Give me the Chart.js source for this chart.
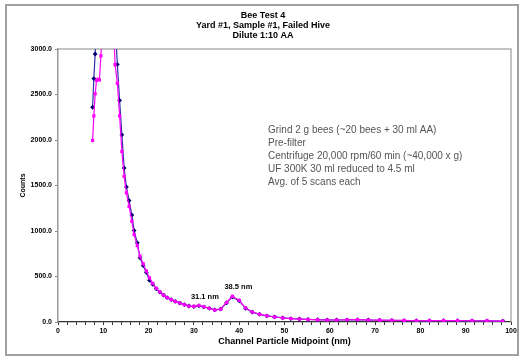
<!DOCTYPE html>
<html>
<head>
<meta charset="utf-8">
<script src="https://cdn.jsdelivr.net/npm/chart.js@4.4.1/dist/chart.umd.min.js"></script>
<style>
  body { margin: 0; background: #fff; }
  #wrap { width: 520px; height: 358px; position: relative; }
</style>
</head>
<body>
<div id="wrap"><canvas id="beeChart" width="520" height="358"></canvas></div>
<script>
// channel midpoints (nm)
const sizes = [7.64, 7.91, 8.20, 8.51, 8.82, 9.14, 9.47, 9.82, 10.2, 10.6, 10.9, 11.3, 11.8, 12.2, 12.6, 13.1,
  13.6, 14.1, 14.6, 15.1, 15.7, 16.3, 16.8, 17.5, 18.1, 18.8, 19.5, 20.2, 20.9, 21.7, 22.5, 23.3, 24.1, 25.0,
  25.9, 26.9, 27.9, 28.9, 30.0, 31.1, 32.2, 33.4, 34.6, 35.9, 37.2, 38.5, 40.0, 41.4, 42.9, 44.5, 46.1, 47.8,
  49.6, 51.4, 53.3, 55.2, 57.3, 59.4, 61.5, 63.8, 66.1, 68.5, 71.0, 73.7, 76.4, 79.1, 82.0, 85.1, 88.2, 91.4,
  94.7, 98.2];

const countsA = [2360, 2675, 2945, 3300, 3800, 4300, 4700, 5000, 5100, 5000, 4800, 4500, 4100, 3700, 3300, 2830,
  2435, 2057, 1692, 1484, 1334, 1175, 1005, 870, 706, 620, 545, 457, 415, 365, 328, 296, 268, 246,
  226, 208, 191, 176, 170, 178, 166, 150, 134, 142, 210, 276, 232, 150, 108, 84, 68, 56,
  46, 38, 33, 28, 25, 23, 22, 24, 26, 22, 19, 17, 15, 14, 14, 15, 14, 13,
  12, 10];

const countsB = [1995, 2265, 2507, 2655, 2668, 2660, 2925, 3300, 3700, 4100, 4300, 4300, 4000, 3300, 2828, 2624,
  2265, 1874, 1600, 1420, 1270, 1107, 961, 840, 723, 640, 560, 485, 425, 370, 330, 295, 268, 245,
  225, 208, 190, 175, 172, 182, 168, 150, 132, 140, 215, 282, 238, 155, 110, 85, 68, 55,
  45, 38, 32, 28, 24, 22, 22, 25, 26, 22, 20, 18, 17, 14, 15, 16, 15, 14,
  13, 10];

const xTicks = [0, 10, 20, 30, 40, 50, 60, 70, 80, 90, 100];
const yTicks = [0, 500, 1000, 1500, 2000, 2500, 3000];

const titleLines = ['Bee Test 4', 'Yard #1, Sample #1, Failed Hive', 'Dilute 1:10 AA'];
const noteLines = ['Grind 2 g bees (~20 bees + 30 ml AA)', 'Pre-filter', 'Centrifuge 20,000 rpm/60 min (~40,000 x g)',
  'UF 300K 30 ml reduced to 4.5 ml', 'Avg. of 5 scans each'];
const peakLabels = [{ x: 31.1, y: 182, text: '31.1 nm' }, { x: 38.5, y: 282, text: '38.5 nm' }];

const FONT = '"Liberation Sans", Arial, sans-serif';

const pts = (vals) => sizes.map((s, i) => ({ x: s, y: vals[i] }));

const decor = {
  id: 'decor',
  beforeDraw(chart) {
    const c = chart.ctx;
    c.save();
    c.strokeStyle = '#a0a0a0';
    c.lineWidth = 2;
    c.strokeRect(6, 5, 512, 350);
    c.restore();
  },
  beforeDatasetsDraw(chart) {
    const c = chart.ctx, a = chart.chartArea;
    c.save();
    c.strokeStyle = '#b0b0b0';
    c.lineWidth = 1.5;
    c.beginPath();
    c.moveTo(a.left, a.top);
    c.lineTo(a.right, a.top);
    c.lineTo(a.right, a.bottom);
    c.stroke();
    c.restore();
  },
  afterDraw(chart) {
    const c = chart.ctx;
    const xs = chart.scales.x, ys = chart.scales.y;
    c.save();
    c.fillStyle = '#000';
    c.textAlign = 'center';
    c.textBaseline = 'middle';
    c.font = 'bold 9px ' + FONT;
    titleLines.forEach((t, i) => c.fillText(t, 263, 16 + i * 10));

    c.font = 'bold 7.5px ' + FONT;
    peakLabels.forEach(p => {
      c.fillText(p.text, xs.getPixelForValue(p.x) + 6, ys.getPixelForValue(p.y) - 9);
    });

    c.fillStyle = '#555';
    c.textAlign = 'left';
    c.font = '10px ' + FONT;
    noteLines.forEach((t, i) => c.fillText(t, 268, 130 + i * 13));
    c.restore();
  }
};

new Chart(document.getElementById('beeChart'), {
  type: 'scatter',
  data: {
    datasets: [
      {
        label: 'Scan A',
        data: pts(countsA),
        showLine: true,
        borderColor: '#3030a8',
        borderWidth: 1.2,
        pointStyle: 'rectRot',
        pointRadius: 2.4,
        pointBackgroundColor: '#000070',
        pointBorderColor: '#000070',
        pointBorderWidth: 0,
        order: 2
      },
      {
        label: 'Scan B',
        data: pts(countsB),
        showLine: true,
        borderColor: '#ff00ff',
        borderWidth: 1.2,
        pointStyle: 'rect',
        pointRadius: 2.3,
        pointBackgroundColor: '#ff00ff',
        pointBorderColor: '#ff00ff',
        pointBorderWidth: 0,
        order: 1
      }
    ]
  },
  options: {
    responsive: false,
    devicePixelRatio: 1,
    animation: false,
    layout: { padding: { left: 0, right: 9, top: 49, bottom: 0 } },
    plugins: { legend: { display: false }, tooltip: { enabled: false } },
    scales: {
      x: {
        type: 'linear',
        min: 0, max: 100,
        afterFit: (s) => { s.height = 36; },
        afterBuildTicks: (s) => {
          const t = [];
          for (let v = 0; v <= 100; v += 2) t.push({ value: v });
          s.ticks = t;
        },
        ticks: {
          autoSkip: false,
          maxRotation: 0,
          padding: 2,
          color: '#000',
          font: { family: FONT, size: 7, weight: 'bold' },
          callback: (v) => xTicks.includes(v) ? String(v) : ''
        },
        grid: { drawOnChartArea: false, drawTicks: true, tickLength: 3, color: '#333' },
        border: { display: true, color: '#333', width: 1.2 },
        title: {
          display: true, text: 'Channel Particle Midpoint (nm)', color: '#000',
          font: { family: FONT, size: 9, weight: 'bold' }, padding: { top: 0, bottom: 11 }
        }
      },
      y: {
        min: 0, max: 3000,
        afterFit: (s) => { s.width = 58; },
        afterBuildTicks: (s) => { s.ticks = yTicks.map(v => ({ value: v })); },
        ticks: {
          padding: 3,
          color: '#000',
          font: { family: FONT, size: 7, weight: 'bold' },
          callback: (v) => Number(v).toFixed(1)
        },
        grid: { drawOnChartArea: false, drawTicks: true, tickLength: 3, color: '#888' },
        border: { display: true, color: '#999', width: 1.5 },
        title: {
          display: true, text: 'Counts', color: '#000',
          font: { family: FONT, size: 7, weight: 'bold' }, padding: { top: 19, bottom: 0 }
        }
      }
    }
  },
  plugins: [decor]
});
</script>
</body>
</html>
